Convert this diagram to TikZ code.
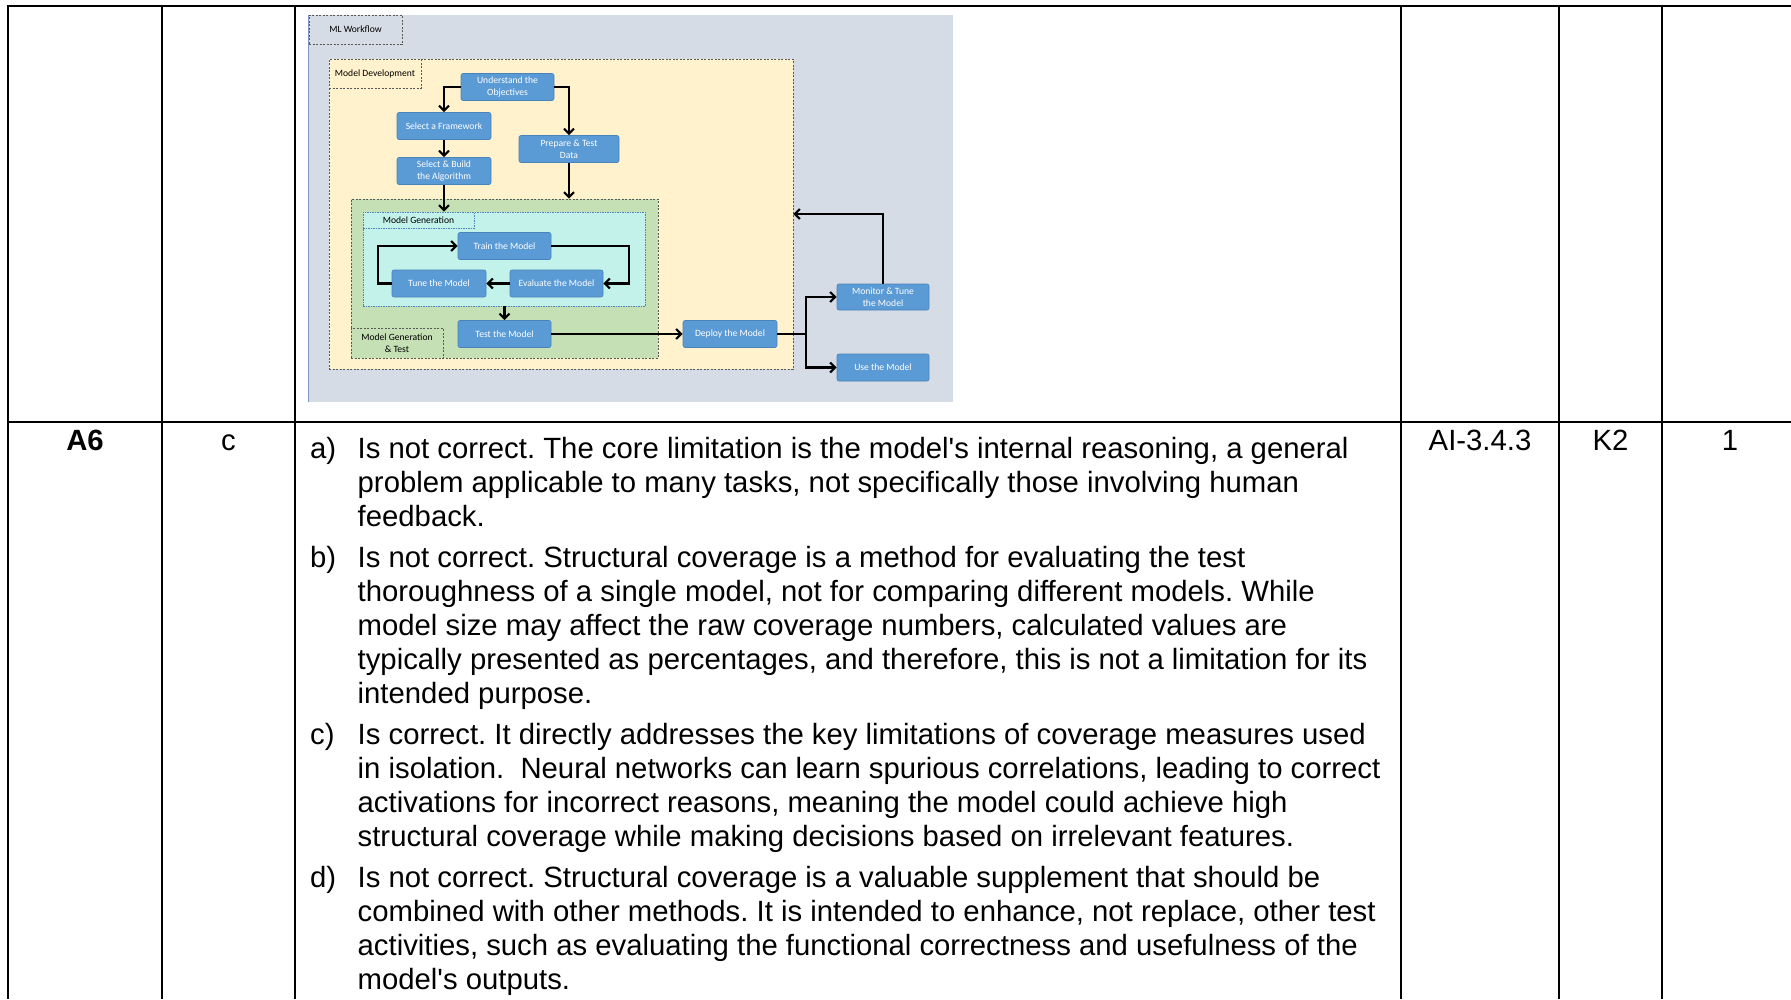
\documentclass[tikz,border=0pt]{standalone}
\usepackage{fontspec}
\setmainfont{Liberation Sans}
\newfontfamily\calib{Carlito}
\usetikzlibrary{arrows.meta}
\definecolor{bggray}{HTML}{D6DCE5}
\definecolor{ylw}{HTML}{FFF2CC}
\definecolor{grn}{HTML}{C5E0B4}
\definecolor{cyn}{HTML}{C2F2E9}
\definecolor{nodeblue}{HTML}{5B9BD5}
\definecolor{nodeedge}{HTML}{4A82BA}
\definecolor{dashgray}{HTML}{595959}
\definecolor{dashblue}{HTML}{4F81BD}
\definecolor{edgeblue}{HTML}{8096BE}
\newcommand\myq{\textquotesingle}
\begin{document}
\frenchspacing
\begin{tikzpicture}[x=1pt,y=-1pt,
  tbl/.style={line width=2.2pt, black},
  tbltext/.style={font=\fontsize{29.3}{34}\selectfont, inner sep=0pt},
  box/.style={draw=nodeedge, fill=nodeblue, rounded corners=2pt, line width=0.6pt,
    text=white, font=\calib\fontsize{9.6}{12}\selectfont, align=center, inner sep=0pt},
  area/.style={draw=dashgray, dash pattern=on 2pt off 1.5pt, line width=0.9pt, inner sep=0pt},
  lbl/.style={font=\calib\fontsize{9.6}{12}\selectfont, align=center, inner sep=0pt, text=black},
  flow/.style={line width=2.3pt, draw=black,
    -{Straight Barb[length=5pt,width=10pt,line width=2.1pt]}},
  plain/.style={line width=2.3pt, draw=black}
]
\useasboundingbox (0,0) rectangle (1791,999);
\fill[white] (0,0) rectangle (1791,999);

% ---------------- diagram ----------------
\node[fill=bggray, minimum width=644pt, minimum height=387pt, inner sep=0pt] (bg) at (631,208.5) {};
\draw[edgeblue, line width=1.2pt] (bg.north west) -- (bg.south west);
\node[area, fill=bggray, minimum width=93pt, minimum height=29pt] (mlw) at (355.5,29.5) {};
\node[lbl] (mlwt) at (mlw.center) {ML Workflow};

\node[area, fill=ylw, minimum width=464pt, minimum height=310pt] (yellow) at (561,214) {};
\node[area, fill=ylw, minimum width=92pt, minimum height=29pt] (mdl) at (375,73.5) {};
\node[lbl] (mdlt) at (mdl.center) {Model Development};

\node[area, fill=grn, minimum width=307pt, minimum height=159pt] (green) at (504.5,278.5) {};
\node[draw=dashblue, dash pattern=on 1.5pt off 1pt, line width=0.6pt, fill=cyn, inner sep=0pt,
  minimum width=282pt, minimum height=94pt] (cyan) at (504,259) {};
\node[draw=dashblue, dash pattern=on 1.5pt off 1pt, line width=0.6pt, fill=cyn, inner sep=0pt,
  minimum width=111pt, minimum height=16pt] (mgl) at (418.5,220) {};
\node[lbl] (mglt) at (mgl.center) {Model Generation};
\node[area, fill=grn, minimum width=92pt, minimum height=30pt] (mgtl) at (397,343) {};
\node[lbl] (mgtlt) at (mgtl.center) {Model Generation\\\& Test};

\node[box, minimum width=93pt, minimum height=27pt] (und) at (507.5,87) {Understand the\\Objectives};
\node[box, minimum width=94pt, minimum height=27pt] (fw) at (444,126) {Select a Framework};
\node[box, minimum width=100pt, minimum height=27pt] (prep) at (569,149) {Prepare \& Test\\Data};
\node[box, minimum width=94pt, minimum height=27pt] (build) at (444,171) {Select \& Build\\the Algorithm};
\node[box, minimum width=93pt, minimum height=27pt] (train) at (504.5,246) {Train the Model};
\node[box, minimum width=94pt, minimum height=27pt] (tune) at (439,283.5) {Tune the Model};
\node[box, minimum width=93pt, minimum height=27pt] (eval) at (556.5,283.5) {Evaluate the Model};
\node[box, minimum width=93pt, minimum height=27pt] (test) at (504.5,334) {Test the Model};
\node[box, minimum width=94pt, minimum height=27pt] (deploy) at (730,334) {Deploy the Model};
\node[box, minimum width=92pt, minimum height=26pt] (mon) at (883,297) {Monitor \& Tune\\the Model};
\node[box, minimum width=92pt, minimum height=27pt] (use) at (883,367.5) {Use the Model};

\draw[flow] (und.west) -| (fw.north);
\draw[flow] (und.east) -| (prep.north);
\draw[flow] (fw.south) -- (build.north);
\draw[flow] (prep.south) -- (prep.south |- green.north);
\draw[flow] (build.south) -- (build.south |- cyan.north);
\draw[flow] (train.east) -- ++(78,0) |- (eval.east);
\draw[flow] (eval.west) -- (tune.east);
\draw[flow] (tune.west) -- ++(-14,0) |- (train.west);
\draw[flow] (test.north |- cyan.south) -- (test.north);
\draw[flow] (test.east) -- (deploy.west);
\draw[plain] (deploy.east) -- ++(29,0) coordinate (split);
\draw[flow] (split) |- (mon.west);
\draw[flow] (split) |- (use.west);
\draw[flow] (mon.north) |- (yellow.east);

% ---------------- table ----------------
\draw[tbl] (7,6) -- (1791,6);
\draw[tbl] (7,422) -- (1791,422);
\foreach \cx in {8,162,295,1401,1559,1662} {
  \draw[tbl] (\cx,5) -- (\cx,999);
}

\node[tbltext, anchor=base, font=\fontsize{29.3}{34}\selectfont\bfseries] (qid) at (85,450) {A6};
\node[tbltext, anchor=base] (ans) at (228.5,450) {c};
\node[tbltext, anchor=base] (lo) at (1480,450) {AI-3.4.3};
\node[tbltext, anchor=base] (kl) at (1610.5,450) {K2};
\node[tbltext, anchor=base] (pts) at (1730,450) {1};

\node[tbltext, anchor=base west] (ia) at (310,458.5) {\makebox[47.5pt][l]{a)}\parbox[t]{1080pt}{%
Is not correct. The core limitation is the model\myq s internal reasoning, a general\\
problem applicable to many tasks, not specifically those involving human\\
feedback.}};
\node[tbltext, anchor=base west] (ib) at (310,567.5) {\makebox[47.5pt][l]{b)}\parbox[t]{1080pt}{%
Is not correct. Structural coverage is a method for evaluating the test\\
thoroughness of a single model, not for comparing different models. While\\
model size may affect the raw coverage numbers, calculated values are\\
typically presented as percentages, and therefore, this is not a limitation for its\\
intended purpose.}};
\node[tbltext, anchor=base west] (ic) at (310,744.5) {\makebox[47.5pt][l]{c)}\parbox[t]{1080pt}{%
Is correct. It directly addresses the key limitations of coverage measures used\\
in isolation.\ \ Neural networks can learn spurious correlations, leading to correct\\
activations for incorrect reasons, meaning the model could achieve high\\
structural coverage while making decisions based on irrelevant features.}};
\node[tbltext, anchor=base west] (id) at (310,887.5) {\makebox[47.5pt][l]{d)}\parbox[t]{1080pt}{%
Is not correct. Structural coverage is a valuable supplement that should be\\
combined with other methods. It is intended to enhance, not replace, other test\\
activities, such as evaluating the functional correctness and usefulness of the\\
model\myq s outputs.}};
\end{tikzpicture}
\end{document}
